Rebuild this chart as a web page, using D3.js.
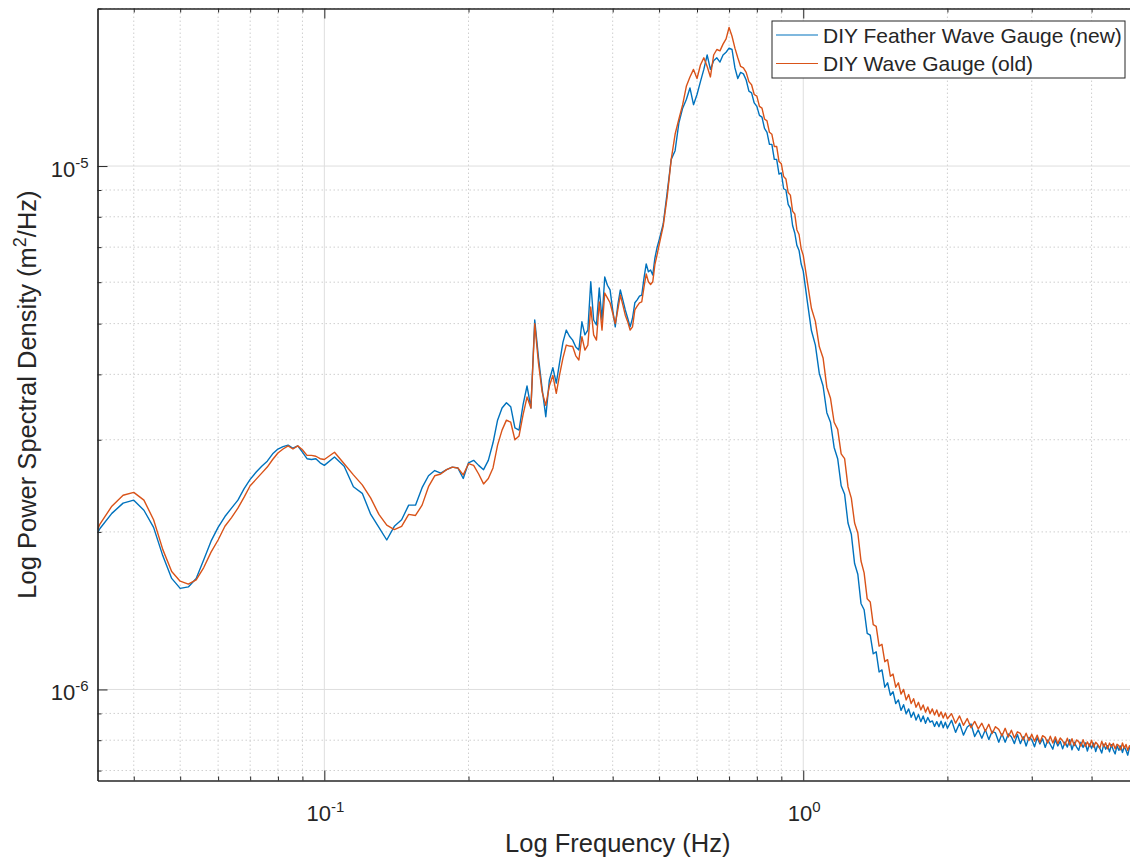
<!DOCTYPE html>
<html>
<head>
<meta charset="utf-8">
<script src="https://cdn.jsdelivr.net/npm/d3@7"></script>
<style>
  body { margin: 0; background: #fff; }
  svg { display: block; font-family: "Liberation Sans", Arial, sans-serif; }
</style>
</head>
<body>
<svg></svg>
<script>
// frequencies (Hz)
var freq = [
  0.0336, 0.034, 0.036, 0.038, 0.04, 0.042, 0.044, 0.046, 0.048, 0.05,
  0.052, 0.054, 0.056, 0.058, 0.06, 0.062, 0.064, 0.066, 0.068, 0.07,
  0.072, 0.074, 0.076, 0.078, 0.08, 0.082, 0.084, 0.086, 0.088, 0.09,
  0.092, 0.094, 0.096, 0.098, 0.1,
  0.105, 0.11, 0.115, 0.12, 0.125, 0.13, 0.135, 0.14, 0.145, 0.15,
  0.155, 0.16, 0.165, 0.17, 0.175, 0.18, 0.185, 0.19, 0.195, 0.2,
  0.205, 0.21, 0.215, 0.22, 0.225, 0.23, 0.235, 0.24, 0.245, 0.25,
  0.255, 0.26, 0.265, 0.27, 0.275, 0.28, 0.285, 0.29, 0.295, 0.3,
  0.305, 0.31, 0.315, 0.32, 0.325, 0.33, 0.335, 0.34, 0.345, 0.35,
  0.355, 0.36, 0.365, 0.37, 0.375, 0.38, 0.385, 0.39, 0.395, 0.4,
  0.405, 0.41, 0.415, 0.42, 0.425, 0.43, 0.435, 0.44, 0.445, 0.45,
  0.455, 0.46, 0.465, 0.47, 0.475, 0.48, 0.485, 0.49, 0.495, 0.5,
  0.51, 0.52, 0.53, 0.54, 0.55, 0.56, 0.57, 0.58, 0.59, 0.6,
  0.61, 0.62, 0.63, 0.64, 0.65, 0.66, 0.67, 0.68, 0.69, 0.7,
  0.71, 0.72, 0.73, 0.74, 0.75, 0.76, 0.77, 0.78, 0.79, 0.8,
  0.81, 0.82, 0.83, 0.84, 0.85, 0.86, 0.87, 0.88, 0.89, 0.9,
  0.91, 0.92, 0.93, 0.94, 0.95, 0.96, 0.97, 0.98, 0.99, 1.0,
  1.02, 1.04, 1.06, 1.08, 1.1, 1.12, 1.14, 1.16, 1.18, 1.2,
  1.22, 1.24, 1.26, 1.28, 1.3, 1.32, 1.34, 1.36, 1.38, 1.4,
  1.42, 1.44, 1.46, 1.48, 1.5, 1.52, 1.54, 1.56, 1.58, 1.6,
  1.62, 1.64, 1.66, 1.68, 1.7, 1.72, 1.74, 1.76, 1.78, 1.8,
  1.82, 1.84, 1.86, 1.88, 1.9, 1.92, 1.94, 1.96, 1.98, 2.0,
  2.04, 2.08, 2.12, 2.16, 2.2, 2.24, 2.28, 2.32, 2.36, 2.4,
  2.44, 2.48, 2.52, 2.56, 2.6, 2.64, 2.68, 2.72, 2.76, 2.8,
  2.84, 2.88, 2.92, 2.96, 3.0, 3.04, 3.08, 3.12, 3.16, 3.2,
  3.24, 3.28, 3.32, 3.36, 3.4, 3.44, 3.48, 3.52, 3.56, 3.6,
  3.64, 3.68, 3.72, 3.76, 3.8, 3.84, 3.88, 3.92, 3.96, 4.0,
  4.04, 4.08, 4.12, 4.16, 4.2, 4.24, 4.28, 4.32, 4.36, 4.4,
  4.44, 4.48, 4.52, 4.56, 4.6, 4.64, 4.68, 4.72, 4.76, 4.8,
  4.84, 4.88, 4.92, 4.96, 5.0
];

// PSD, in units of 1e-6 m^2/Hz
var psdNew = [
  1.99, 2.03, 2.17, 2.27, 2.30, 2.20, 2.04, 1.80, 1.63, 1.56,
  1.57, 1.63, 1.77, 1.92, 2.04, 2.14, 2.22, 2.30, 2.42, 2.52,
  2.60, 2.67, 2.73, 2.82, 2.88, 2.91, 2.93, 2.89, 2.92, 2.84,
  2.76, 2.75, 2.76, 2.71, 2.68,
  2.78, 2.67, 2.44, 2.37, 2.16, 2.04, 1.93, 2.05, 2.11, 2.25,
  2.25, 2.43, 2.56, 2.62, 2.59, 2.63, 2.66, 2.65, 2.53, 2.71,
  2.74, 2.68, 2.63, 2.74, 2.96, 3.27, 3.45, 3.53, 3.47, 3.16,
  3.13, 3.50, 3.80, 3.45, 5.08, 4.30, 3.75, 3.32, 3.90, 4.12,
  3.85, 4.22, 4.61, 4.86, 4.73, 4.65, 4.51, 4.45, 5.04, 4.76,
  4.86, 6.01, 5.08, 4.97, 5.85, 5.08, 6.14, 5.92, 5.80, 5.31,
  4.93, 5.43, 5.80, 5.55, 5.31, 5.12, 4.93, 5.12, 5.48, 5.55,
  5.64, 5.67, 6.11, 6.50, 6.28, 6.33, 6.19, 6.67, 6.98, 7.22,
  7.75, 8.92, 10.3, 10.7, 12.1, 12.9, 13.4, 14.1, 13.1, 13.7,
  14.5, 15.3, 16.3, 15.3, 15.9, 16.1, 15.8, 16.3, 16.5, 16.8,
  16.7, 15.4, 14.7, 15.1, 15.0, 14.6, 13.9, 13.8, 13.2, 13.0,
  12.5, 12.4, 11.8, 11.6, 11.0, 11.0, 10.3, 10.3, 9.65, 9.70,
  9.05, 9.00, 8.45, 8.30, 7.70, 7.45, 7.05, 6.90, 6.50, 6.30,
  5.50, 4.85, 4.55, 4.02, 3.80, 3.38, 3.24, 2.90, 2.76, 2.45,
  2.36, 2.08, 1.98, 1.74, 1.66, 1.46, 1.42, 1.28, 1.27, 1.17,
  1.18, 1.08, 1.09, 1.01, 1.03, 0.975, 0.990, 0.940, 0.955, 0.912,
  0.935, 0.898, 0.918, 0.885, 0.905, 0.874, 0.896, 0.868, 0.890, 0.862,
  0.884, 0.866, 0.871, 0.850, 0.868, 0.849, 0.870, 0.845, 0.866, 0.843,
  0.873, 0.828, 0.862, 0.818, 0.848, 0.859, 0.813, 0.837, 0.807, 0.838,
  0.802, 0.832, 0.826, 0.793, 0.823, 0.793, 0.822, 0.812, 0.788, 0.820,
  0.788, 0.812, 0.780, 0.810, 0.802, 0.777, 0.809, 0.787, 0.805, 0.775,
  0.801, 0.785, 0.769, 0.802, 0.780, 0.796, 0.770, 0.794, 0.776, 0.802,
  0.767, 0.793, 0.777, 0.765, 0.793, 0.775, 0.791, 0.763, 0.787, 0.772,
  0.790, 0.761, 0.783, 0.772, 0.756, 0.786, 0.769, 0.781, 0.760, 0.784,
  0.766, 0.753, 0.781, 0.765, 0.780, 0.758, 0.778, 0.765, 0.749, 0.777,
  0.763, 0.775, 0.754, 0.770, 0.760
];

var psdOld = [
  2.02, 2.07, 2.24, 2.35, 2.38, 2.30, 2.11, 1.85, 1.68, 1.61,
  1.59, 1.62, 1.71, 1.83, 1.93, 2.05, 2.13, 2.22, 2.33, 2.45,
  2.52, 2.59, 2.66, 2.75, 2.83, 2.88, 2.92, 2.88, 2.92, 2.87,
  2.80, 2.80, 2.79, 2.76, 2.75,
  2.84, 2.70, 2.57, 2.46, 2.32, 2.16, 2.06, 2.02, 2.05, 2.16,
  2.15, 2.25, 2.44, 2.56, 2.58, 2.63, 2.66, 2.65, 2.57, 2.70,
  2.68, 2.58, 2.47, 2.53, 2.65, 2.93, 3.13, 3.27, 3.24, 3.00,
  3.05, 3.35, 3.62, 3.45, 5.00, 4.20, 3.70, 3.49, 3.80, 3.98,
  3.68, 4.00, 4.30, 4.55, 4.53, 4.52, 4.34, 4.26, 4.72, 4.45,
  4.55, 5.38, 4.76, 4.65, 5.50, 4.86, 5.72, 5.60, 5.48, 5.24,
  5.00, 5.31, 5.67, 5.43, 5.19, 5.04, 4.86, 4.93, 5.31, 5.40,
  5.48, 5.50, 5.87, 6.22, 6.01, 5.94, 6.01, 6.48, 6.76, 7.06,
  7.68, 8.76, 10.3, 11.5, 12.3, 13.1, 14.2, 14.8, 15.3, 14.7,
  15.6, 16.1, 15.5, 14.8, 16.3, 16.7, 16.6, 17.1, 17.5, 18.4,
  17.7, 16.8, 16.1, 15.5, 15.4, 15.1, 14.5, 14.3, 13.7, 13.6,
  13.0, 12.9, 12.3, 12.2, 11.6, 11.5, 10.9, 10.9, 10.2, 10.1,
  9.55, 9.45, 8.90, 8.80, 8.20, 8.10, 7.55, 7.40, 6.95, 6.75,
  6.00, 5.35, 5.05, 4.52, 4.30, 3.78, 3.60, 3.24, 3.14, 2.82,
  2.76, 2.44, 2.32, 2.08, 1.99, 1.76, 1.67, 1.49, 1.47, 1.33,
  1.32, 1.21, 1.22, 1.13, 1.14, 1.06, 1.07, 1.01, 1.03, 0.980,
  1.000, 0.955, 0.978, 0.940, 0.960, 0.925, 0.945, 0.914, 0.934, 0.905,
  0.926, 0.899, 0.918, 0.894, 0.914, 0.888, 0.906, 0.882, 0.902, 0.879,
  0.899, 0.862, 0.890, 0.854, 0.880, 0.845, 0.869, 0.841, 0.862, 0.832,
  0.858, 0.824, 0.849, 0.839, 0.815, 0.843, 0.811, 0.836, 0.808, 0.830,
  0.824, 0.801, 0.825, 0.799, 0.821, 0.796, 0.818, 0.792, 0.816, 0.810,
  0.790, 0.814, 0.790, 0.812, 0.788, 0.808, 0.798, 0.783, 0.807, 0.783,
  0.805, 0.781, 0.801, 0.795, 0.779, 0.802, 0.778, 0.794, 0.778, 0.800,
  0.776, 0.793, 0.785, 0.772, 0.796, 0.777, 0.791, 0.770, 0.790, 0.777,
  0.789, 0.770, 0.786, 0.781, 0.767, 0.790, 0.772, 0.785, 0.765, 0.781,
  0.772, 0.784, 0.764, 0.781, 0.771
];

var seriesNames = ["DIY Feather Wave Gauge (new)", "DIY Wave Gauge (old)"];
var seriesColors = ["#0072BD", "#D95319"];

var xMajor = [0.1, 1];
var xMinor = [0.04, 0.05, 0.06, 0.07, 0.08, 0.09, 0.2, 0.3, 0.4, 0.5, 0.6, 0.7, 0.8, 0.9, 2, 3, 4, 5];
var yMajor = [1e-6, 1e-5];
var yMinor = [7e-7, 8e-7, 9e-7, 2e-6, 3e-6, 4e-6, 5e-6, 6e-6, 7e-6, 8e-6, 9e-6, 2e-5];

var xTitle = "Log Frequency (Hz)";
var yTitle = "Log Power Spectral Density (m";
var unit = 1e-6;

var W = 1130, H = 858;
var box = { left: 97.5, top: 8.5, right: 1138, bottom: 780.5 };
var axisColor = "#262626";

var svg, x, y;

function main() {
    svg = d3.select("svg").attr("width", W).attr("height", H);

    x = d3.scaleLog().domain([0.0336, 5]).range([box.left, box.right]);
    y = d3.scaleLog().domain([6.7e-7, 2e-5]).range([box.bottom, box.top]);

    drawGrid();
    drawSeries();
    drawAxes();
    drawLegend();
}

function drawGrid() {
    var g = svg.append("g").attr("class", "grid");

    g.selectAll("line.xminor").data(xMinor).enter().append("line")
        .attr("x1", d => x(d)).attr("x2", d => x(d))
        .attr("y1", box.top).attr("y2", box.bottom)
        .attr("stroke", "#cfcfcf").attr("stroke-dasharray", "1.5,2.5");
    g.selectAll("line.yminor").data(yMinor).enter().append("line")
        .attr("y1", d => y(d)).attr("y2", d => y(d))
        .attr("x1", box.left).attr("x2", box.right)
        .attr("stroke", "#cfcfcf").attr("stroke-dasharray", "1.5,2.5");

    g.selectAll("line.xmajor").data(xMajor).enter().append("line")
        .attr("x1", d => x(d)).attr("x2", d => x(d))
        .attr("y1", box.top).attr("y2", box.bottom)
        .attr("stroke", "#dedede");
    g.selectAll("line.ymajor").data(yMajor).enter().append("line")
        .attr("y1", d => y(d)).attr("y2", d => y(d))
        .attr("x1", box.left).attr("x2", box.right)
        .attr("stroke", "#dedede");
}

function drawSeries() {
    svg.append("clipPath").attr("id", "clip")
        .append("rect")
        .attr("x", box.left).attr("y", box.top)
        .attr("width", box.right - box.left).attr("height", box.bottom - box.top);

    var line = d3.line()
        .x(d => x(d.f))
        .y(d => y(d.p * unit));

    var all = [psdNew, psdOld];
    all.forEach(function (vals, k) {
        var data = freq.map((f, i) => ({ f: f, p: vals[i] }));
        svg.append("path")
            .attr("class", "psd")
            .attr("clip-path", "url(#clip)")
            .attr("d", line(data))
            .attr("fill", "none")
            .attr("stroke", seriesColors[k])
            .attr("stroke-width", 1.4)
            .attr("stroke-linejoin", "round");
    });
}

function expLabel(sel) {
    sel.text("10");
    sel.append("tspan")
        .attr("dy", -9)
        .attr("font-size", 15)
        .text(d => Math.round(Math.log10(d)));
}

function styleAxis(g) {
    g.selectAll("path.domain").attr("stroke", axisColor).attr("stroke-width", 1.2);
    g.selectAll(".tick line").attr("stroke", axisColor).attr("stroke-width", 1);
    g.selectAll(".tick text").remove();
}

function drawAxes() {
    // minor + major ticks, pointing inward, on all visible sides
    [[xMinor, -4], [xMajor, -10]].forEach(function (t) {
        svg.append("g").attr("transform", "translate(0," + box.bottom + ")")
            .call(d3.axisBottom(x).tickValues(t[0]).tickSize(t[1]).tickSizeOuter(0).tickFormat(""))
            .call(styleAxis);
        svg.append("g").attr("transform", "translate(0," + box.top + ")")
            .call(d3.axisTop(x).tickValues(t[0]).tickSize(t[1]).tickSizeOuter(0).tickFormat(""))
            .call(styleAxis);
    });
    [[yMinor, -4], [yMajor, -10]].forEach(function (t) {
        svg.append("g").attr("transform", "translate(" + box.left + ",0)")
            .call(d3.axisLeft(y).tickValues(t[0]).tickSize(t[1]).tickSizeOuter(0).tickFormat(""))
            .call(styleAxis);
    });

    // tick labels with superscript exponents
    svg.selectAll("text.xtick").data(xMajor).enter().append("text")
        .attr("class", "xtick")
        .attr("x", d => x(d) + 1)
        .attr("y", box.bottom + 40)
        .attr("text-anchor", "middle")
        .attr("font-size", 22)
        .attr("fill", axisColor)
        .call(expLabel);

    svg.selectAll("text.ytick").data(yMajor).enter().append("text")
        .attr("class", "ytick")
        .attr("x", box.left - 9)
        .attr("y", d => y(d) + 11)
        .attr("text-anchor", "end")
        .attr("font-size", 22)
        .attr("fill", axisColor)
        .call(expLabel);

    svg.append("text")
        .attr("x", (box.left + box.right) / 2)
        .attr("y", 852)
        .attr("text-anchor", "middle")
        .attr("font-size", 25.5)
        .attr("fill", axisColor)
        .text(xTitle);

    var yl = svg.append("text")
        .attr("transform", "translate(36," + ((box.top + box.bottom) / 2) + ") rotate(-90)")
        .attr("text-anchor", "middle")
        .attr("font-size", 25.5)
        .attr("fill", axisColor)
        .text(yTitle);
    yl.append("tspan").attr("dy", -10).attr("font-size", 18).text("2");
    yl.append("tspan").attr("dy", 10).text("/Hz)");
}

function drawLegend() {
    var lg = svg.append("g").attr("class", "legend");
    lg.append("rect")
        .attr("x", 772).attr("y", 21)
        .attr("width", 353).attr("height", 57)
        .attr("fill", "#fff")
        .attr("stroke", axisColor).attr("stroke-width", 1);

    var rows = lg.selectAll("g.row").data(seriesNames).enter().append("g")
        .attr("class", "row")
        .attr("transform", (d, i) => "translate(0," + (35 + i * 28.5) + ")");

    rows.append("line")
        .attr("x1", 776).attr("x2", 818)
        .attr("stroke", (d, i) => seriesColors[i])
        .attr("stroke-width", 1.2);

    rows.append("text")
        .attr("x", 823)
        .attr("y", 7.5)
        .attr("font-size", 21)
        .attr("fill", axisColor)
        .text(d => d);
}

main();
</script>
</body>
</html>
